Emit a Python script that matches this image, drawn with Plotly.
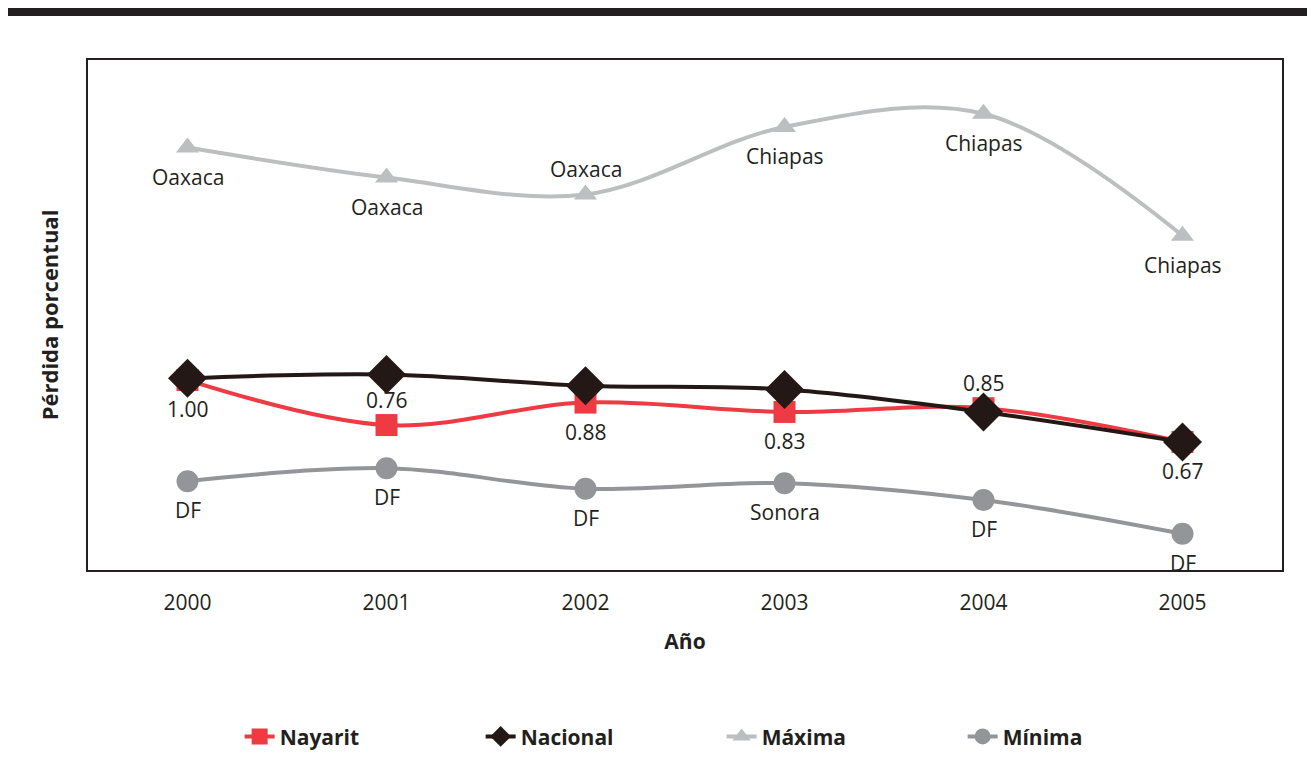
import plotly.graph_objects as go

years = [2000, 2001, 2002, 2003, 2004, 2005]
nayarit = [1.00, 0.76, 0.88, 0.83, 0.85, 0.67]
nacional = [1.01, 1.03, 0.97, 0.95, 0.83, 0.67]
maxima = [2.24, 2.08, 1.99, 2.35, 2.42, 1.77]
minima = [0.46, 0.53, 0.42, 0.45, 0.36, 0.18]

nayarit_labels = ["1.00", "0.76", "0.88", "0.83", "0.85", "0.67"]
nayarit_pos = ["below", "above", "below", "below", "above", "below"]
maxima_labels = ["Oaxaca", "Oaxaca", "Oaxaca", "Chiapas", "Chiapas", "Chiapas"]
maxima_pos = ["below", "below", "above", "below", "below", "below"]
minima_labels = ["DF", "DF", "DF", "Sonora", "DF", "DF"]
minima_pos = ["below", "below", "below", "below", "below", "below"]

RED = "#ee3a43"
BLACK = "#231815"
LIGHT = "#bdbec0"
GREY = "#939598"
TEXT = "#231f20"
FONT = "Open Sans"

fig = go.Figure()
fig.add_trace(go.Scatter(x=years, y=nayarit, name="Nayarit", mode="lines+markers",
                         line=dict(color=RED, width=4, shape="spline"),
                         marker=dict(symbol="square", size=22, color=RED)))
fig.add_trace(go.Scatter(x=years, y=nacional, name="Nacional", mode="lines+markers",
                         line=dict(color=BLACK, width=4, shape="spline"),
                         marker=dict(symbol="diamond", size=30, color=BLACK)))
fig.add_trace(go.Scatter(x=years, y=maxima, name="Máxima", mode="lines+markers",
                         line=dict(color=LIGHT, width=4, shape="spline"),
                         marker=dict(symbol="triangle-up", size=20, color=LIGHT)))
fig.add_trace(go.Scatter(x=years, y=minima, name="Mínima", mode="lines+markers",
                         line=dict(color=GREY, width=4, shape="spline"),
                         marker=dict(symbol="circle", size=22, color=GREY)))

annotations = []
for ys, labels, pos in [(nayarit, nayarit_labels, nayarit_pos),
                        (maxima, maxima_labels, maxima_pos),
                        (minima, minima_labels, minima_pos)]:
    for x, y, t, p in zip(years, ys, labels, pos):
        annotations.append(dict(x=x, y=y, text=t, showarrow=False,
                                yshift=(-29 if p == "below" else 25),
                                font=dict(family=FONT, size=21, color=TEXT)))

fig.update_layout(
    width=1307, height=770,
    margin=dict(l=80, r=33, t=52, b=208),
    paper_bgcolor="white", plot_bgcolor="white",
    font=dict(family=FONT, size=21, color=TEXT),
    annotations=annotations,
    legend=dict(orientation="h", x=0.127, xanchor="left", y=-0.327, yanchor="middle",
                traceorder="normal", entrywidth=196,
                font=dict(family=FONT, size=21, color=TEXT, weight="bold")),
    showlegend=True,
    shapes=[dict(type="rect", xref="paper", yref="paper", x0=-0.1, x1=1.1,
                 y0=1.0863, y1=1.2, fillcolor="#231f20", line=dict(width=0), layer="above")],
)

fig.update_xaxes(range=[1999.5, 2005.5], tickvals=years, ticktext=[str(y) for y in years],
                 showgrid=False, zeroline=False, showline=True, linecolor=TEXT, linewidth=1.5,
                 mirror=True, ticks="", ticklabelstandoff=13,
                 tickfont=dict(family=FONT, size=21, color=TEXT),
                 title=dict(text="Año", standoff=19,
                            font=dict(family=FONT, size=21, color=TEXT, weight="bold")))
fig.update_yaxes(range=[-0.013, 2.707], showticklabels=False, showgrid=False, zeroline=False,
                 showline=True, linecolor=TEXT, linewidth=1.5, mirror=True, ticks="",
                 title=dict(text="Pérdida porcentual", standoff=22,
                            font=dict(family=FONT, size=22, color=TEXT, weight="bold")))

fig.write_html("out.html")
